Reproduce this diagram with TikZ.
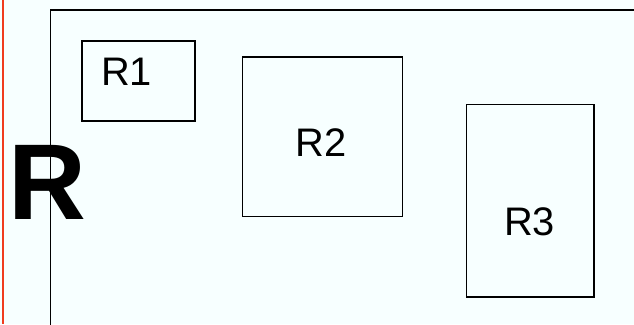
\documentclass[tikz,border=0pt]{standalone}
\usepackage{fontspec}
\setmainfont{Liberation Sans}
\definecolor{paper}{RGB}{247,255,255}
\definecolor{edgered}{RGB}{240,60,30}
\tikzset{
  region/.style={draw=black,line width=1.6pt},
  regionlabel/.style={inner sep=0pt,font=\fontsize{34}{34}\selectfont},
}

\begin{document}
\begin{tikzpicture}[x=0.03cm,y=-0.03cm]
\useasboundingbox (0,0) rectangle (634,324);
\clip (0,0) rectangle (634,324);
\fill[paper] (0,0) rectangle (634,324);
\draw[edgered,line width=1.8pt] (3,0) -- (3,324);
% outer region
\draw[region] (50.5,10) rectangle (680,360);
\node[inner sep=0pt,font=\bfseries\fontsize{92}{92}\selectfont] (rootR) at (47,182) {R};
% sub regions
\draw[region] (82,41) rectangle (195,121);
\node[regionlabel] (labR1) at (126.5,71.5) {R1};
\draw[region] (242.5,57) rectangle (402.5,216.5);
\node[regionlabel] (labR2) at (321,142.3) {R2};
\draw[region] (466.5,104.5) rectangle (594,297);
\node[regionlabel] (labR3) at (529.5,222) {R3};
\end{tikzpicture}
\end{document}
